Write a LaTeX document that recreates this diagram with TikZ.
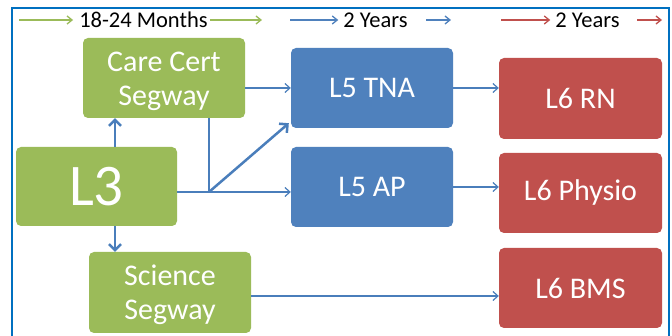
\documentclass[tikz,border=0pt]{standalone}
\usepackage{fontspec}
\setmainfont{Carlito}
\usetikzlibrary{arrows.meta,calc}
\definecolor{ggreen}{HTML}{9BBB59}
\definecolor{gblue}{HTML}{4F81BD}
\definecolor{gred}{HTML}{C0504D}
\definecolor{frame}{HTML}{0070C0}
\definecolor{conn}{HTML}{4A7EBB}
\newcommand{\lowtext}{\rule{0pt}{26pt}}
\tikzset{
  box/.style={rounded corners=5pt, text=white, align=center, inner sep=0pt,
    minimum width=162pt, minimum height=80pt, font=\fontsize{30}{34}\selectfont},
  gbox/.style={box, fill=ggreen},
  bbox/.style={box, fill=gblue},
  rbox/.style={box, fill=gred},
  thin arrow/.style={draw=conn, line width=1.2pt, -{Straight Barb[length=5pt,width=9pt,line width=1.2pt]}},
  thick arrow/.style={draw=conn, line width=2.5pt, -{Straight Barb[length=6pt,width=12pt,line width=2.5pt]}},
  plain line/.style={draw=conn, line width=1.2pt},
  head/.style={font=\fontsize{22.5}{26}\selectfont, inner sep=0pt, text=black},
  harrow/.style={line width=1.3pt, -{Straight Barb[length=5pt,width=8pt,line width=1.3pt]}}
}
\begin{document}
\begin{tikzpicture}[x=1pt,y=-1pt]
\useasboundingbox (0,0) rectangle (672,336);
\fill[white] (0,0) rectangle (672,336);
\draw[frame, line width=1.6pt] (12,336) -- (12,8) -- (669,8) -- (669,336);

% header
\node[head] (h1) at (143.5,20) {18-24 Months};
\node[head] (h2) at (375.5,20) {2 Years};
\node[head] (h3) at (587.5,20) {2 Years};
\coordinate (g1) at (19,20);
\coordinate (g2) at (262,20);
\coordinate (b1) at (290,20);
\coordinate (b2s) at (426,20);
\coordinate (b2) at (451,20);
\coordinate (r1) at (501,20);
\coordinate (r2s) at (637,20);
\coordinate (r2) at (662,20);
\draw[harrow, ggreen] (g1) -- ([xshift=-6pt]h1.west);
\draw[harrow, ggreen] ([xshift=2pt]h1.east) -- (g2);
\draw[harrow, gblue] (b1) -- ([xshift=-5pt]h2.west);
\draw[harrow, gblue] (b2s) -- (b2);
\draw[harrow, gred] (r1) -- ([xshift=-5pt]h3.west);
\draw[harrow, gred] (r2s) -- (r2);

% nodes
\node[gbox] (cc) at (164,78) {\lowtext Care Cert\\Segway};
\node[gbox, minimum width=161pt, minimum height=79pt, font=\fontsize{59}{60}\selectfont] (l3) at (96.5,186.5) {L3};
\node[gbox, minimum height=81pt] (sci) at (170,292.5) {\lowtext Science\\Segway};
\node[bbox] (tna) at (372,88) {L5 TNA};
\node[bbox] (ap) at (372,187) {L5 AP};
\node[rbox, minimum width=163pt, minimum height=81pt] (rn) at (580.5,98.5) {L6 RN};
\node[rbox, minimum width=163pt] (ph) at (580.5,193) {L6 Physio};
\node[rbox, minimum width=163pt] (bms) at (580.5,288) {L6 BMS};

% connectors
\coordinate (j) at (209,192);
\coordinate (v) at (115,0);
\coordinate (hb) at (0,296);
\draw[thin arrow] (cc.east |- tna.west) -- (tna.west);
\draw[plain line] (cc.south -| j) -- (j);
\draw[thin arrow] (l3.east |- j) -- (ap.west |- j);
\draw[thick arrow] (j) -- ([xshift=-2pt,yshift=5pt]tna.south west);
\draw[thick arrow] (l3.north -| v) -- (cc.south -| v);
\draw[thick arrow] (l3.south -| v) -- (sci.north -| v);
\draw[thin arrow] (tna.east) -- (rn.west |- tna.east);
\draw[thin arrow] (ap.east) -- (ph.west |- ap.east);
\draw[thin arrow] (sci.east |- hb) -- (bms.west |- hb);
\end{tikzpicture}
\end{document}
